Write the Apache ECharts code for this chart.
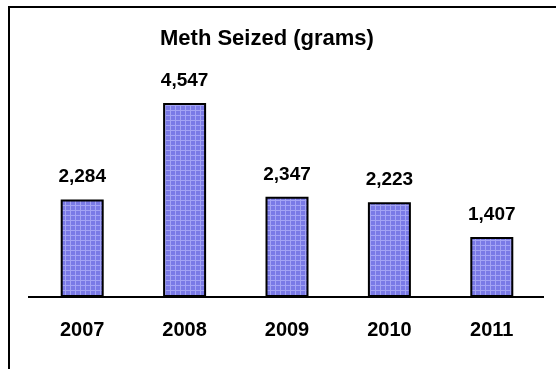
<!DOCTYPE html>
<html>
<head>
<meta charset="utf-8">
<script src="https://cdn.jsdelivr.net/npm/echarts@6/dist/echarts.min.js"></script>
<style>
  html, body { margin: 0; padding: 0; background: #fff; }
  #chart { width: 556px; height: 369px; }
</style>
</head>
<body>
<div id="chart"></div>
<script>
// Annual methamphetamine seizures, in grams
const years = ['2007', '2008', '2009', '2010', '2011'];
const gramsSeized = [2284, 4547, 2347, 2223, 1407];
const chartTitle = 'Meth Seized (grams)';

// Small tiled canvas: blue fill crossed by a fine lighter grid
function gridPattern() {
  const c = document.createElement('canvas');
  c.width = 5; c.height = 5;
  const g = c.getContext('2d');
  g.fillStyle = '#7a7ae6';
  g.fillRect(0, 0, 5, 5);
  g.fillStyle = '#a4a4f4';
  g.fillRect(0, 0, 5, 1);
  g.fillRect(0, 0, 1, 5);
  return c;
}

const font = 'Liberation Sans, Arial, sans-serif';

const chart = echarts.init(document.getElementById('chart'), null, { renderer: 'canvas' });
chart.setOption({
  animation: false,
  backgroundColor: '#fff',
  title: {
    text: chartTitle,
    left: 155,
    top: 23,
    textStyle: { fontFamily: font, fontWeight: 'bold', fontSize: 22, color: '#000' }
  },
  grid: { left: 31, right: 13, top: 103, bottom: 72 },
  xAxis: {
    type: 'category',
    data: years,
    axisLine: { lineStyle: { color: '#000', width: 2 } },
    axisTick: { show: false },
    axisLabel: {
      margin: 23,
      fontFamily: font, fontWeight: 'bold', fontSize: 20, color: '#000'
    }
  },
  yAxis: {
    type: 'value',
    min: 0,
    max: 4547,
    show: false,
    splitLine: { show: false }
  },
  series: [{
    type: 'bar',
    data: gramsSeized,
    barWidth: 43,
    itemStyle: {
      color: { image: gridPattern(), repeat: 'repeat' },
      borderColor: '#000',
      borderWidth: 2
    },
    label: {
      show: true,
      position: 'top',
      distance: 13,
      formatter: p => p.value.toLocaleString('en-US'),
      fontFamily: font, fontWeight: 'bold', fontSize: 19, color: '#000'
    }
  }],
  graphic: [
    {
      type: 'polyline',
      shape: { points: [[9, 369], [9, 7], [556, 7]] },
      style: { stroke: '#000', lineWidth: 2, fill: null }
    },
    {
      // axis baseline spans slightly wider than the category band
      type: 'line',
      shape: { x1: 28, y1: 297, x2: 544, y2: 297 },
      style: { stroke: '#000', lineWidth: 2 }
    }
  ]
});
</script>
</body>
</html>
